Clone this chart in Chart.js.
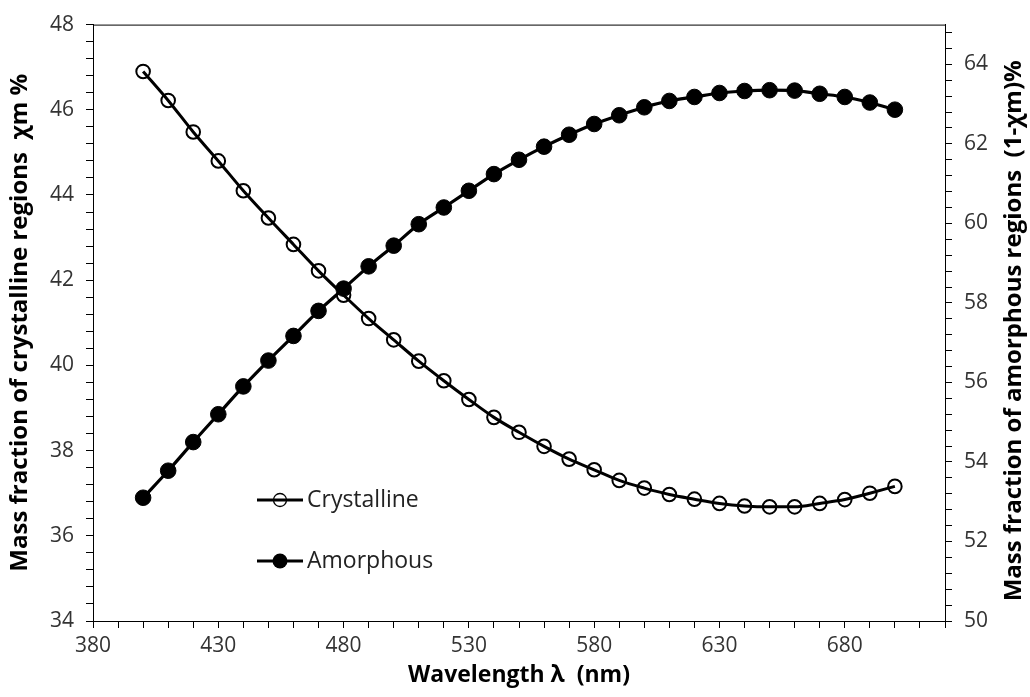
<!DOCTYPE html>
<html><head><meta charset="utf-8">
<script src="https://cdn.jsdelivr.net/npm/chart.js@4.4.1/dist/chart.umd.min.js"></script>
<style>html,body{margin:0;padding:0;background:#fff;} #wrap{width:1030px;height:697px;}</style>
</head><body><div id="wrap"><canvas id="c" width="1030" height="697"></canvas></div>
<script>
const wavelengths = [400,410,420,430,440,450,460,470,480,490,500,510,520,530,540,550,560,570,580,590,600,610,620,630,640,650,660,670,680,690,700];
const crystalline = [46.9,46.22,45.48,44.8,44.1,43.46,42.84,42.22,41.65,41.1,40.6,40.1,39.64,39.2,38.78,38.43,38.1,37.8,37.55,37.3,37.12,36.97,36.86,36.76,36.7,36.68,36.68,36.76,36.85,37.0,37.16];
const amorphous = [53.1,53.78,54.5,55.2,55.9,56.55,57.17,57.8,58.36,58.92,59.44,59.98,60.4,60.82,61.24,61.6,61.93,62.23,62.5,62.72,62.92,63.08,63.18,63.28,63.33,63.35,63.34,63.26,63.18,63.04,62.86];
const xTickLabels = [380,430,480,530,580,630,680];
const leftTickLabels = [34,36,38,40,42,44,46,48];
const rightTickLabels = [50,52,54,56,58,60,62,64];
const seriesNames = ['Crystalline','Amorphous'];
const xTitle = 'Wavelength \u03bb  (nm)';
const leftTitle = 'Mass fraction of crystalline regions  \u03c7m %';
const rightTitle = 'Mass fraction of amorphous regions  (1-\u03c7m)%';

Chart.defaults.font.family = '"Open Sans", sans-serif';

function makeTicks(min, max, step){
  const t = [];
  const n = Math.floor((max - min) / step + 1e-9);
  for (let i = 0; i <= n; i++) t.push({value: Math.round((min + i*step)*1000)/1000});
  return t;
}
function labelFrom(list){
  return function(v){
    const r = Math.round(v);
    return (Math.abs(v - r) < 1e-6 && list.includes(r)) ? String(r) : '';
  };
}
const tickFont = {size: 21, family: '"Open Sans", sans-serif'};
const tickColor = '#333';
const gridCommon = {display: true, drawOnChartArea: false, drawTicks: true, tickLength: 7, color: '#000', lineWidth: 1};

const decor = {
  id: 'decor',
  beforeDatasetsDraw(chart){
    const {ctx, chartArea: a} = chart;
    ctx.save();
    ctx.strokeStyle = '#000'; ctx.lineWidth = 1;
    ctx.beginPath(); ctx.moveTo(a.left, a.top + 0.5); ctx.lineTo(a.right, a.top + 0.5); ctx.stroke();
    ctx.restore();
  },
  afterDraw(chart, args, opts){
    const {ctx, chartArea: a} = chart;
    ctx.save();
    ctx.translate(opts.rightTitleX, (a.top + a.bottom) / 2 + 8);
    ctx.rotate(-Math.PI / 2);
    ctx.fillStyle = '#000';
    ctx.font = 'bold 24px "Open Sans", sans-serif';
    ctx.textAlign = 'center'; ctx.textBaseline = 'middle';
    ctx.fillText(opts.rightTitle, 0, 0);
    ctx.restore();
    chart.data.datasets.forEach((ds, i) => {
      const y = opts.legendY[i];
      const x0 = opts.legendX, x1 = x0 + 46, xm = x0 + 23;
      ctx.save();
      ctx.strokeStyle = '#000'; ctx.lineWidth = 3;
      ctx.beginPath(); ctx.moveTo(x0, y); ctx.lineTo(x1, y); ctx.stroke();
      ctx.beginPath(); ctx.arc(xm, y, ds.legendRadius, 0, Math.PI * 2);
      if (ds.legendFill) { ctx.fillStyle = '#000'; ctx.fill(); }
      else { ctx.lineWidth = 1.3; ctx.stroke(); }
      ctx.fillStyle = '#222';
      ctx.font = '23px "Open Sans", sans-serif';
      ctx.textAlign = 'left'; ctx.textBaseline = 'middle';
      ctx.fillText(ds.label, x1 + 4, y);
      ctx.restore();
    });
  }
};

new Chart(document.getElementById('c'), {
  type: 'line',
  data: {
    datasets: [
      {
        label: seriesNames[0],
        data: wavelengths.map((w, i) => ({x: w, y: crystalline[i]})),
        yAxisID: 'y', xAxisID: 'x',
        borderColor: '#000', borderWidth: 3,
        pointRadius: 6.8, pointBorderWidth: 2, pointBorderColor: '#000',
        pointBackgroundColor: 'rgba(0,0,0,0)',
        cubicInterpolationMode: 'monotone', order: 1,
        legendRadius: 6.5, legendFill: false
      },
      {
        label: seriesNames[1],
        data: wavelengths.map((w, i) => ({x: w, y: amorphous[i]})),
        yAxisID: 'y2', xAxisID: 'x',
        borderColor: '#000', borderWidth: 3.2,
        pointRadius: 7.8, pointBorderWidth: 1, pointBorderColor: '#000',
        pointBackgroundColor: '#000',
        cubicInterpolationMode: 'monotone', order: 0,
        legendRadius: 7.5, legendFill: true
      }
    ]
  },
  options: {
    responsive: false, animation: false,
    layout: {padding: {top: 18, left: 0, right: 0, bottom: 0}},
    plugins: {
      legend: {display: false}, tooltip: {enabled: false},
      decor: {rightTitle: rightTitle, rightTitleX: 1014, legendX: 257, legendY: [500, 561]}
    },
    scales: {
      x: {
        type: 'linear', position: 'bottom', min: 380, max: 720,
        afterBuildTicks: s => { s.ticks = makeTicks(380, 720, 10); },
        afterFit: s => { s.height = 76; },
        ticks: {autoSkip: false, maxRotation: 0, padding: 5, font: tickFont, color: tickColor, callback: labelFrom(xTickLabels)},
        grid: gridCommon,
        border: {display: true, color: '#000', width: 1},
        title: {display: true, text: xTitle, color: '#000', font: {size: 23, weight: 'bold'}, padding: {top: 0, bottom: 8}}
      },
      y: {
        type: 'linear', position: 'left', min: 34, max: 48,
        afterBuildTicks: s => { s.ticks = makeTicks(34, 48, 0.4); },
        afterFit: s => { s.width = 93; },
        ticks: {autoSkip: false, padding: 12, font: tickFont, color: tickColor, callback: labelFrom(leftTickLabels)},
        grid: gridCommon,
        border: {display: true, color: '#000', width: 1},
        title: {display: true, text: leftTitle, color: '#000', font: {size: 24, weight: 'bold'}, padding: {top: 6, bottom: 0}}
      },
      y2: {
        type: 'linear', position: 'right', min: 50, max: 65,
        afterBuildTicks: s => { s.ticks = makeTicks(50, 65, 0.4); },
        afterFit: s => { s.width = 85; },
        ticks: {autoSkip: false, padding: 12, font: tickFont, color: tickColor, callback: labelFrom(rightTickLabels)},
        grid: gridCommon,
        border: {display: true, color: '#000', width: 1}
      }
    }
  },
  plugins: [decor]
});
</script>
</body></html>
